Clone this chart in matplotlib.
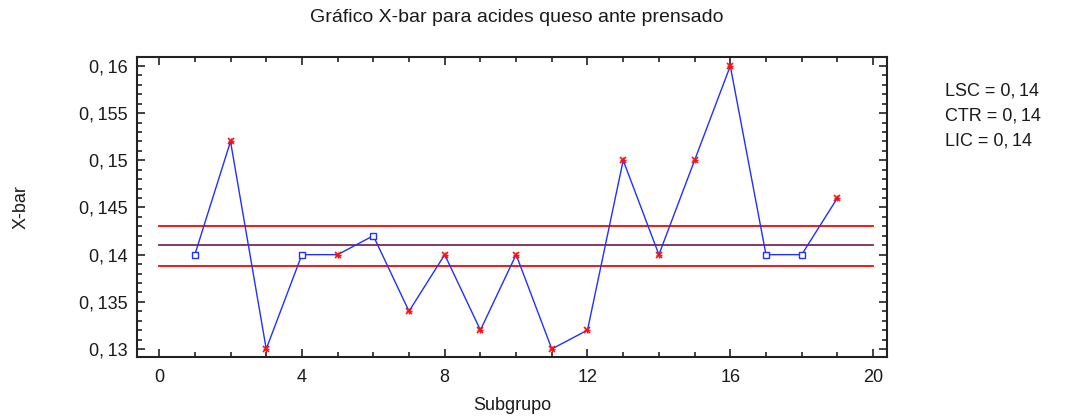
import matplotlib
matplotlib.use("Agg")
import matplotlib.pyplot as plt
from matplotlib.ticker import MultipleLocator, FuncFormatter

plt.rcParams['font.family'] = ['Liberation Sans', 'DejaVu Sans']

subgroups = list(range(1, 20))
xbar = [0.140, 0.152, 0.130, 0.140, 0.140, 0.142, 0.134, 0.140, 0.132, 0.140,
        0.130, 0.132, 0.150, 0.140, 0.150, 0.160, 0.140, 0.140, 0.146]
# True where the point is flagged (red star), False for plain square markers
flagged = [False, True, True, False, True, False, True, True, True, True,
           True, True, True, True, True, True, False, False, True]
lsc, ctr, lic = 0.14304, 0.14102, 0.13880
limit_labels = ["LSC = 0,\u200914", "CTR = 0,\u200914", "LIC = 0,\u200914"]

fig = plt.figure(figsize=(10.70, 4.16), dpi=100)
ax = fig.add_axes([137/1070, 1-357/416, 750/1070, 300/416])

ax.plot([0, 20], [lsc, lsc], color='#ff0000', lw=1.3, zorder=2)
ax.plot([0, 20], [lic, lic], color='#ff0000', lw=1.3, zorder=2)
ax.plot([0, 20], [ctr, ctr], color='#7a2a5a', lw=1.3, zorder=2)

ax.plot(subgroups, xbar, color='#2030ff', lw=1.0, zorder=3)
sq_x = [s for s, f in zip(subgroups, flagged) if not f]
sq_y = [v for v, f in zip(xbar, flagged) if not f]
fl_x = [s for s, f in zip(subgroups, flagged) if f]
fl_y = [v for v, f in zip(xbar, flagged) if f]
ax.plot(sq_x, sq_y, ls='none', marker='s', ms=4, mfc='white', mec='#2030ff', mew=1.0, zorder=4)
ax.plot(fl_x, fl_y, ls='none', marker='x', ms=4, mec='#ff1010', mew=1.2, zorder=4)
ax.plot(fl_x, fl_y, ls='none', marker='+', ms=4, mec='#ff1010', mew=1.0, zorder=4)

ax.set_xlim(-0.62, 20.39)
ax.set_ylim(0.12915, 0.16095)
ax.xaxis.set_major_locator(MultipleLocator(4))
ax.xaxis.set_minor_locator(MultipleLocator(1))
ax.yaxis.set_major_locator(MultipleLocator(0.005))
ax.yaxis.set_minor_locator(MultipleLocator(0.001))
ax.yaxis.set_major_formatter(FuncFormatter(lambda v, p: ('%g' % round(v, 4)).replace('.', ',\u2009')))

ax.tick_params(which='both', direction='in', top=True, right=True, color='#222222',
               labelsize=13, labelcolor='#1a1a1a', width=1.2)
ax.tick_params(which='major', length=6)
ax.tick_params(which='minor', length=3.5)
ax.tick_params(axis='x', which='major', pad=9)
ax.tick_params(axis='y', which='major', pad=7)
for sp in ax.spines.values():
    sp.set_linewidth(1.5)
    sp.set_color('#222222')

ax.set_xlabel('Subgrupo', fontsize=13, color='#1a1a1a')
ax.xaxis.label.set_va('center')
ax.xaxis.set_label_coords(0.5, (357 - 405) / 300)
ax.set_ylabel('X-bar', fontsize=13, color='#1a1a1a')
ax.yaxis.label.set_va('center')
ax.yaxis.set_label_coords((21 - 137) / 750, 0.5)

fig.text(517/1070, 1-18/416, 'Gráfico X-bar para acides queso ante prensado',
         ha='center', va='center', fontsize=14, color='#1a1a1a')

for i, lab in enumerate(limit_labels):
    fig.text(945/1070, 1-(91 + 25*i)/416, lab, ha='left', va='center',
             fontsize=13, color='#1a1a1a')

fig.savefig('out.png', dpi=100)
